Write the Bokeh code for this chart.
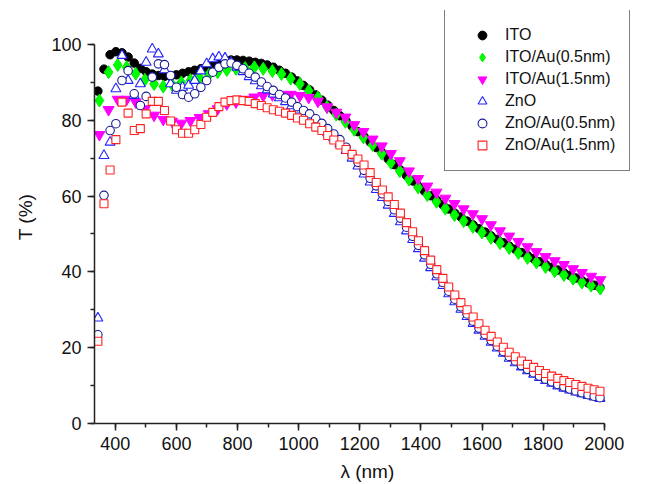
from bokeh.plotting import figure
from bokeh.models import Legend, LegendItem, SingleIntervalTicker, Range1d
from bokeh.embed import file_html
from bokeh.resources import INLINE

# wavelength grids (nm)
wl_a = [round(343 + 19.8 * i) for i in range(84)]
wl_b = [round(348 + 29.8 * i) for i in range(56)]

ito = [87.7, 93.5, 97.3, 98.1, 97.8, 96.7, 95.1, 93.7, 92.8, 92.2,
       91.8, 91.6, 91.6, 92.0, 92.4, 92.8, 93.2, 93.6, 94.0, 94.7,
       95.2, 95.6, 95.9, 95.9, 95.8, 95.6, 95.3, 95.0, 94.6, 94.0,
       93.2, 92.4, 91.4, 90.4, 89.2, 88.0, 86.7, 85.3, 84.0, 82.6,
       81.2, 79.8, 78.4, 77.0, 75.7, 74.3, 72.8, 71.4, 69.8, 68.3,
       66.9, 65.4, 64.0, 62.6, 61.3, 60.1, 58.9, 57.7, 56.6, 55.5,
       54.5, 53.4, 52.4, 51.4, 50.5, 49.5, 48.6, 47.7, 46.8, 46.0,
       45.1, 44.3, 43.5, 42.7, 42.0, 41.2, 40.5, 39.8, 39.1, 38.4,
       37.7, 37.1, 36.5, 35.9]

ito_au05 = [85.2, 92.7, 94.6, 94.0, 92.3, 90.7, 89.6, 88.9, 89.4, 90.0,
            90.6, 91.2, 92.0, 92.7, 93.3, 93.6, 93.8, 94.0, 93.6, 93.0,
            92.2, 91.0, 89.6, 87.8, 86.0, 83.5, 81.5, 79.6, 77.5, 75.5,
            73.5, 71.2, 68.8, 66.6, 64.4, 62.3, 60.3, 58.5, 56.7, 55.0,
            53.4, 51.9, 50.4, 49.0, 47.6, 46.3, 45.0, 43.7, 42.5, 41.3,
            40.2, 39.2, 38.2, 37.2, 36.4, 35.6]

ito_au15 = [76.2, 82.8, 85.5, 85.5, 84.8, 83.0, 81.3, 80.2, 79.7, 79.2,
            79.9, 80.7, 81.7, 83.0, 84.3, 84.8, 85.5, 86.1, 86.5, 86.7,
            86.8, 86.8, 86.5, 86.0, 85.0, 83.5, 82.1, 80.8, 78.8, 77.0,
            75.0, 73.2, 71.2, 69.3, 66.6, 64.6, 62.6, 61.0, 59.4, 58.0,
            56.6, 55.3, 54.0, 52.4, 50.8, 49.4, 48.0, 46.6, 45.3, 44.0,
            42.9, 41.9, 40.8, 39.8, 38.8, 37.9]

zno = [27.8, 70.7, 74.2, 88.3, 97.1, 90.5, 86.5, 89.6, 95.3, 98.8,
       97.5, 93.3, 89.6, 87.9, 88.7, 89.2, 90.5, 93.0, 94.9, 96.2,
       96.7, 96.4, 95.3, 94.0, 92.8, 91.5, 90.4, 89.1, 88.0, 86.9,
       85.9, 84.9, 83.8, 82.7, 81.6, 80.6, 79.4, 78.1, 76.7, 75.3,
       73.8, 72.0, 70.0, 67.9, 65.8, 63.7, 61.7, 59.6, 57.6, 55.4,
       53.2, 50.8, 48.5, 46.1, 43.6, 41.1, 38.7, 36.4, 34.2, 32.1,
       30.1, 28.2, 26.4, 24.6, 23.0, 21.4, 19.9, 18.5, 17.2, 16.0,
       14.9, 13.9, 13.0, 12.1, 11.3, 10.6, 9.9, 9.3, 8.8, 8.3,
       7.8, 7.4, 7.0, 6.6]

zno_au05 = [23.4, 60.2, 77.3, 79.1, 90.5, 93.1, 87.0, 83.9, 86.3, 91.4,
            94.9, 94.7, 91.8, 88.7, 86.8, 86.1, 87.0, 88.7, 90.5, 92.7,
            94.0, 94.9, 95.1, 94.5, 93.6, 92.4, 91.4, 90.1, 88.9, 87.9,
            86.8, 85.9, 84.8, 83.6, 82.6, 81.7, 80.4, 79.2, 77.8, 76.4,
            74.9, 72.9, 70.9, 68.9, 66.8, 64.7, 62.7, 60.6, 58.6, 56.4,
            54.2, 51.8, 49.4, 47.0, 44.5, 42.0, 39.5, 37.2, 34.9, 32.8,
            30.8, 28.9, 27.0, 25.2, 23.5, 21.9, 20.4, 19.0, 17.7, 16.5,
            15.3, 14.3, 13.4, 12.5, 11.7, 11.0, 10.3, 9.7, 9.1, 8.6,
            8.1, 7.6, 7.2, 6.8]

zno_au15 = [21.7, 58.0, 66.9, 74.9, 84.8, 81.9, 77.3, 77.8, 81.7, 85.0,
            85.0, 82.6, 79.8, 77.5, 76.6, 76.6, 77.5, 78.9, 80.8, 82.1,
            83.6, 84.8, 85.2, 85.4, 85.2, 85.0, 84.4, 83.9, 83.3, 82.8,
            82.4, 81.9, 81.3, 80.6, 80.0, 79.1, 78.2, 77.3, 76.0, 74.8,
            73.5, 72.3, 71.0, 69.8, 68.2, 66.2, 63.6, 61.6, 59.8, 57.8,
            55.5, 53.0, 50.6, 48.2, 45.6, 43.1, 40.6, 38.3, 36.0, 33.9,
            31.9, 30.0, 28.1, 26.3, 24.6, 23.0, 21.5, 20.1, 18.8, 17.6,
            16.5, 15.6, 14.8, 14.0, 13.2, 12.5, 11.9, 11.3, 10.8, 10.3,
            9.8, 9.3, 8.9, 8.5]

labels = ["ITO", "ITO/Au(0.5nm)", "ITO/Au(1.5nm)", "ZnO", "ZnO/Au(0.5nm)", "ZnO/Au(1.5nm)"]

x_ticks_interval = 200
y_ticks_interval = 20
x_axis_bounds = (332, 2000)
y_axis_bounds = (0, 100)

FONT = "Liberation Sans"

# frame spans beyond the axes' bounds so the legend (which pokes past the data area) is not clipped
p = figure(width=649, height=484, output_backend="svg", toolbar_location=None,
           x_range=Range1d(332, 2135), y_range=Range1d(0, 108.97),
           min_border_left=94, min_border_right=4, min_border_top=10, min_border_bottom=61)
p.outline_line_color = None
p.grid.visible = False
p.background_fill_color = "white"
p.border_fill_color = "white"

r1 = p.scatter(wl_a, ito, marker="circle", size=8.5, fill_color="black", line_color="black")
r2 = p.scatter(wl_b, ito_au05, marker="diamond", size=13, fill_color="#00ff00", line_color="#00ee00")
r3 = p.scatter(wl_b, ito_au15, marker="inverted_triangle", size=11, fill_color="#ff00ff", line_color="#ff00ff")
r4 = p.scatter(wl_a, zno, marker="triangle", size=10, fill_color="white", line_color="#2222ff", line_width=1.1)
r5 = p.scatter(wl_a, zno_au05, marker="circle", size=8.5, fill_color="white", line_color="#1a1a99", line_width=1.1)
r6 = p.scatter(wl_a, zno_au15, marker="square", size=8, fill_color="white", line_color="#ff2222", line_width=1.1)

p.xaxis.ticker = SingleIntervalTicker(interval=x_ticks_interval, num_minor_ticks=2)
p.yaxis.ticker = SingleIntervalTicker(interval=y_ticks_interval, num_minor_ticks=2)
p.xaxis.bounds = x_axis_bounds
p.yaxis.bounds = y_axis_bounds

for ax in (p.xaxis[0], p.yaxis[0]):
    ax.axis_line_color = "#222222"
    ax.axis_line_width = 1.5
    ax.major_tick_line_color = "#222222"
    ax.major_tick_line_width = 1.5
    ax.minor_tick_line_color = "#222222"
    ax.minor_tick_line_width = 1.5
    ax.major_tick_in = 0
    ax.major_tick_out = 7
    ax.minor_tick_in = 0
    ax.minor_tick_out = 4
    ax.major_label_text_font = FONT
    ax.major_label_text_font_size = "18px"
    ax.major_label_text_color = "#111111"
    ax.axis_label_text_font = FONT
    ax.axis_label_text_font_size = "19px"
    ax.axis_label_text_font_style = "normal"
    ax.axis_label_text_color = "#111111"

p.xaxis.axis_label = "λ  (nm)"
p.yaxis.axis_label = "T (%)"
p.xaxis.major_label_standoff = 6
p.yaxis.major_label_standoff = 6
p.xaxis.axis_label_standoff = 8
p.yaxis.axis_label_standoff = 12

legend = Legend(items=[LegendItem(label=l, renderers=[r]) for l, r in zip(labels, [r1, r2, r3, r4, r5, r6])],
                location=(350, 252))
legend.border_line_color = "black"
legend.border_line_width = 1
legend.background_fill_color = "white"
legend.background_fill_alpha = 1
legend.padding = 14
legend.margin = 0
legend.spacing = 0
legend.glyph_width = 46
legend.glyph_height = 22
legend.label_height = 22
legend.label_standoff = 0
legend.label_text_font = FONT
legend.label_text_font_size = "16px"
legend.label_text_color = "#111111"
p.add_layout(legend, "center")

open("out.html", "w").write(file_html(p, INLINE))
